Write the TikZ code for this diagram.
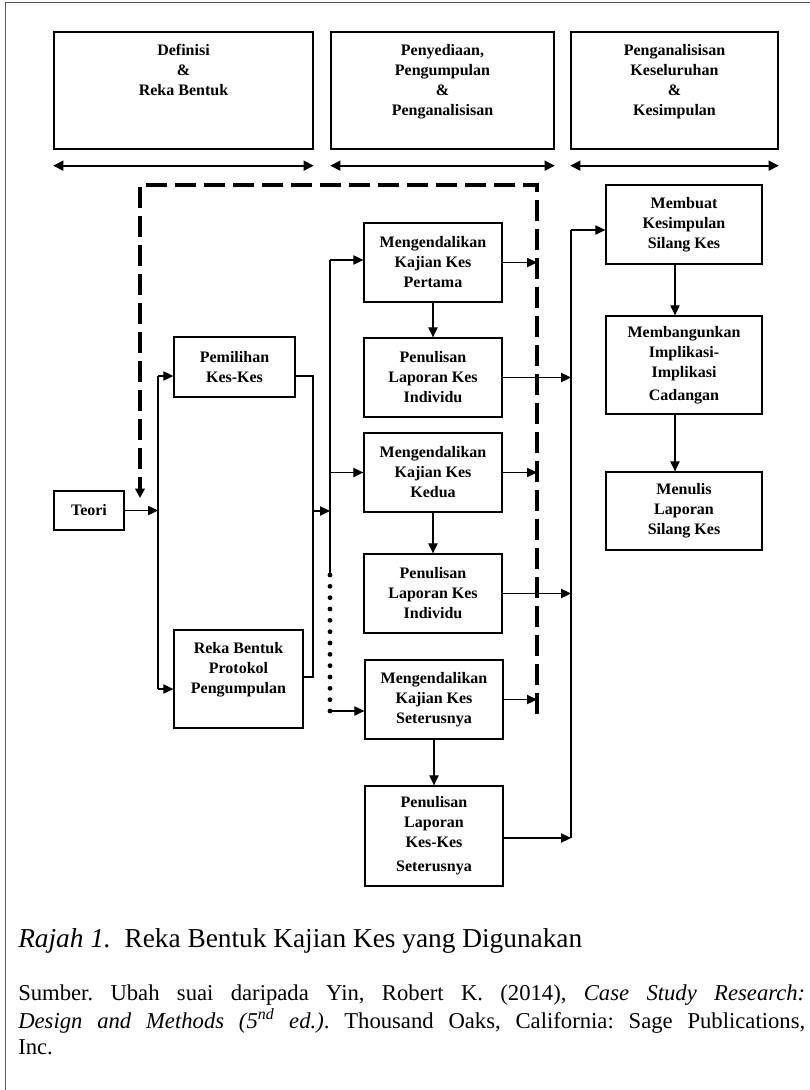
\documentclass[tikz,border=0pt]{standalone}
\usepackage{fontspec}
\setmainfont{Liberation Serif}
\usetikzlibrary{arrows.meta,calc}
\frenchspacing
\newcommand{\tbox}[3]{\parbox[c][#2][t]{#1}{\centering\vspace*{9.5pt}#3}}
\begin{document}
\begin{tikzpicture}[x=0.75pt,y=-0.75pt,
  box/.style={draw, line width=1pt, inner sep=0pt, align=center, font=\bfseries\fontsize{12}{15}\selectfont},
  tbx/.style={draw, line width=1pt, inner sep=0pt, font=\bfseries\fontsize{12}{15}\selectfont},
  arr/.style={line width=0.8pt, -{Triangle[length=7.5pt,width=7pt]}},
  conn/.style={line width=0.8pt},
  harr/.style={line width=1.3pt, {Triangle[length=7.5pt,width=7.5pt]}-{Triangle[length=7.5pt,width=7.5pt]}},
  dashline/.style={line width=3pt, dash pattern=on 15.75pt off 6pt, -{Triangle[length=7pt,width=7pt]}},
  dotline/.style={line width=3.6pt, line cap=round, dash pattern=on 0pt off 8.5pt},
]
\useasboundingbox (0,0) rectangle (810,1090);
% frame
\draw[black!65, line width=0.8pt] (5.5,1090) -- (5.5,2.5) -- (810,2.5);

% header boxes
\node[tbx] (h1) at (183.5,90.5) {\tbox{194.25pt}{87.75pt}{Definisi\\\&\\Reka Bentuk}};
\node[tbx] (h2) at (442.5,90.5) {\tbox{167.25pt}{87.75pt}{Penyediaan,\\Pengumpulan\\\&\\Penganalisisan}};
\node[tbx] (h3) at (674.5,90.5) {\tbox{155.25pt}{87.75pt}{Penganalisisan\\Keseluruhan\\\&\\Kesimpulan}};
\draw[harr] ([yshift=-12pt]h1.south west) -- ([yshift=-12pt]h1.south east);
\draw[harr] ([yshift=-12pt]h2.south west) -- ([yshift=-12pt]h2.south east);
\draw[harr] ([yshift=-12pt]h3.south west) -- ([yshift=-12pt]h3.south east);

% boxes
\node[box, minimum width=52.5pt, minimum height=29.25pt] (teori) at (89,510.5) {Teori};
\node[box, minimum width=90.75pt, minimum height=45pt] (pem) at (234.5,367) {Pemilihan\\Kes-Kes};
\node[tbx] (reka) at (238.5,679) {\tbox{96.75pt}{73.5pt}{Reka Bentuk\\Protokol\\Pengumpulan}};
\node[box, minimum width=103.5pt, minimum height=59.25pt] (m1) at (433,262.5) {Mengendalikan\\Kajian Kes\\Pertama};
\node[box, minimum width=103.5pt, minimum height=59.25pt] (p1) at (433,377.5) {Penulisan\\Laporan Kes\\Individu};
\node[box, minimum width=103.5pt, minimum height=59.25pt] (m2) at (433,472.5) {Mengendalikan\\Kajian Kes\\Kedua};
\node[box, minimum width=103.5pt, minimum height=59.25pt] (p2) at (433,593.5) {Penulisan\\Laporan Kes\\Individu};
\node[box, minimum width=103.5pt, minimum height=59.25pt] (m3) at (434,699.5) {Mengendalikan\\Kajian Kes\\Seterusnya};
\node[box, minimum width=103.5pt, minimum height=75pt] (p3) at (434,836) {Penulisan\\Laporan\\Kes-Kes\\[3pt]Seterusnya};
\node[box, minimum width=117pt, minimum height=59.25pt] (mb) at (684,224.5) {Membuat\\Kesimpulan\\Silang Kes};
\node[box, minimum width=117pt, minimum height=73.5pt] (mbg) at (684,365) {Membangunkan\\Implikasi-\\Implikasi\\[2.5pt]Cadangan};
\node[box, minimum width=117pt, minimum height=58.5pt] (mn) at (684,511) {Menulis\\Laporan\\Silang Kes};

% trunk coordinates
\coordinate (dtl) at (140,185);
\coordinate (dtr) at (537,185);
\coordinate (dbr) at (537,714);
\coordinate (dtip) at (140,498);
\coordinate (ltop) at (158,376);
\coordinate (lbot) at (158,689);
\coordinate (mtop) at (313,376);
\coordinate (mmid) at (313,511);
\coordinate (mbot) at (313,677);
\coordinate (ctop) at (330,260);
\coordinate (cdot) at (330,575);
\coordinate (cbot) at (330,711);
\coordinate (rtop) at (571,230);
\coordinate (rbot) at (571,838);

% dashed feedback
\draw[dashline] (dbr) -- (dtr) -- (dtl) -- (dtip);

% left trunk
\draw[conn] (ltop) -- (lbot);
\draw[arr] (teori.east) -- (teori.east -| ltop);
\draw[arr] (ltop) -- (ltop -| pem.west);
\draw[arr] (lbot) -- (lbot -| reka.west);

% merge
\draw[conn] (pem.east |- mtop) -- (mtop) -- (mbot) -- (mbot -| reka.east);
\draw[arr] (mmid) -- (mmid -| ctop);

% centre trunk
\draw[conn] (ctop) -- (cdot);
\draw[dotline] (cdot) -- (cbot);
\draw[arr] (ctop) -- (ctop -| m1.west);
\draw[arr] (m2.west -| ctop) -- (m2.west);
\draw[arr] (cbot) -- (cbot -| m3.west);

% case chains
\draw[arr] (m1.south) -- (p1.north);
\draw[arr] (m2.south) -- (p2.north);
\draw[arr] (m3.south) -- (p3.north);
\draw[arr] (m1.east) -- (m1.east -| dtr);
\draw[arr] (m2.east) -- (m2.east -| dtr);
\draw[arr] (m3.east) -- (m3.east -| dtr);

% right trunk
\draw[conn] (rtop) -- (rbot);
\draw[arr] (rtop) -- (rtop -| mb.west);
\draw[arr] (p1.east) -- (p1.east -| rtop);
\draw[arr] (p2.east) -- (p2.east -| rtop);
\draw[arr] (rbot -| p3.east) -- (rbot);

% cross-case chain
\draw[arr] ([xshift=-6.75pt]mb.south) -- ([xshift=-6.75pt]mbg.north);
\draw[arr] ([xshift=-6.75pt]mbg.south) -- ([xshift=-6.75pt]mn.north);

% caption
\node[anchor=base west, inner sep=0pt, font=\fontsize{20.5}{24}\selectfont] (cap) at (18,947) {\textit{Rajah 1.}\ \ Reka Bentuk Kajian Kes yang Digunakan};
\node[anchor=base west, inner sep=0pt, font=\fontsize{17}{20}\selectfont] (src1) at (18,1000) {\makebox[590.25pt][s]{Sumber. Ubah suai daripada Yin, Robert K. (2014), \textit{Case Study Research:}}};
\node[anchor=base west, inner sep=0pt, font=\fontsize{17}{20}\selectfont] (src2) at (18,1028) {\makebox[590.25pt][s]{\textit{Design and Methods (5\textsuperscript{nd} ed.)}. Thousand Oaks, California: Sage Publications,}};
\node[anchor=base west, inner sep=0pt, font=\fontsize{17}{20}\selectfont] (src3) at (18,1054) {Inc.};
\end{tikzpicture}
\end{document}
